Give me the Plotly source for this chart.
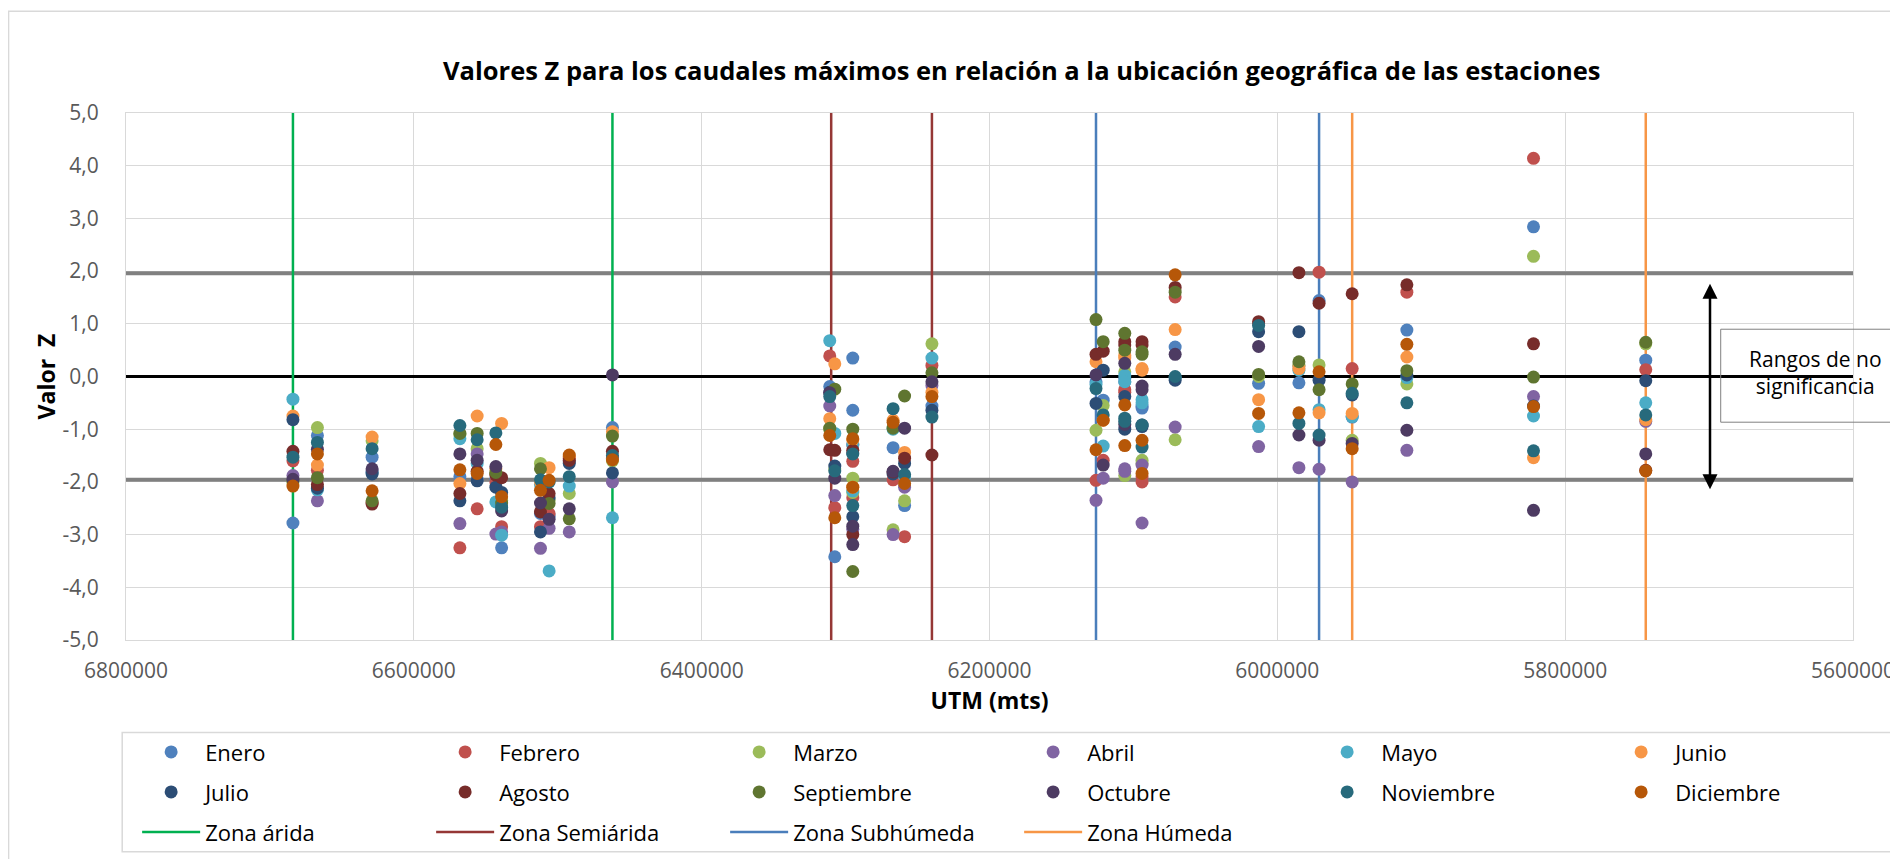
import plotly.graph_objects as go

# UTM norte de cada estación (m)
utm_estaciones = [
    6684000, 6667000, 6629000, 6568000, 6556000, 6543000, 6539000, 6512000,
    6506000, 6492000, 6462000, 6311000, 6307500, 6295000, 6295000, 6267000,
    6259000, 6240000, 6126000, 6121000, 6106000, 6106000, 6094000, 6094000,
    6071000, 6013000, 5985000, 5971000, 5948000, 5910000, 5822000, 5744000,
]

# Valor Z de cada mes por estación
enero = [-2.78, -1.12, -1.53, -1.90, -1.95, -1.95, -3.25, -2.60, -2.65, -1.62, -0.97, -0.19, -3.42, 0.35, -0.64, -1.35,
         -2.45, -0.56, -0.10, -0.45, -0.04, -0.10, -0.56, -0.60, 0.56, -0.13, -0.12, 1.44, -0.77, 0.88, 2.84, 0.31]
febrero = [-1.60, -1.78, -2.40, -3.25, -2.51, -2.00, -2.85, -2.85, -2.60, -1.55, -1.55, 0.39, -2.49, -1.61, -2.30, -1.96,
           -3.04, 0.21, -1.97, -1.59, -0.25, -0.30, -2.00, -1.90, 1.51, 1.00, 0.20, 1.98, 0.15, 1.60, 4.14, 0.13]
marzo = [-2.00, -0.97, -1.22, -1.10, -1.37, -1.85, -2.35, -1.65, -2.35, -2.22, -1.60, -1.00, -1.75, -1.93, -2.20, -2.91,
         -2.36, 0.62, -1.02, -0.55, 0.09, -1.88, -1.59, -1.65, -1.20, 0.00, 0.22, 0.22, -1.21, -0.14, 2.28, 0.62]
abril = [-1.88, -2.36, -1.80, -2.79, -1.47, -2.99, -2.95, -3.26, -2.88, -2.95, -2.00, -0.56, -2.26, -1.30, -2.90, -3.00,
         -2.10, -0.17, -2.35, -1.93, -1.75, -1.80, -2.78, -1.68, -0.96, -1.33, -1.73, -1.76, -2.00, -1.40, -0.38, -0.85]
mayo = [-0.43, -2.15, -1.82, -1.18, -1.65, -2.38, -3.01, -2.05, -3.69, -2.08, -2.68, 0.68, -1.08, -1.29, -2.17, -1.00,
        -1.90, 0.35, -0.15, -1.32, 0.02, -0.10, -0.44, -0.50, -0.02, -0.95, 0.12, -0.63, -0.76, -0.02, -0.75, -0.50]
junio = [-0.75, -1.68, -1.15, -2.03, -0.75, -1.75, -0.89, -2.00, -1.73, -1.52, -1.05, -0.80, 0.24, -1.20, -2.10, -0.83,
         -1.44, -0.30, 0.28, -0.83, 0.40, 0.35, 0.15, 0.12, 0.89, -0.44, 0.15, -0.69, -0.70, 0.37, -1.54, -0.82]
julio = [-0.82, -2.12, -1.85, -2.36, -1.98, -2.10, -2.20, -2.95, -2.30, -1.65, -1.83, -0.30, -1.70, -1.45, -2.66, -1.85,
         -1.65, -0.64, -0.51, 0.12, -0.38, -1.00, -0.92, -0.95, -0.07, 0.85, 0.85, -0.07, -0.35, 0.03, -0.56, -0.08]
agosto = [-1.42, -2.05, -2.42, -2.22, -1.80, -1.87, -1.92, -2.57, -2.22, -1.59, -1.42, -1.39, -1.40, -1.40, -3.00, -1.81,
          -1.55, -1.49, 0.42, 0.48, 0.66, 0.60, 0.66, 0.60, 1.69, 1.04, 1.97, 1.39, 1.57, 1.74, 0.62, -1.78]
septiembre = [-1.98, -1.92, -2.36, -1.08, -1.08, -1.82, -2.40, -1.75, -2.41, -2.70, -1.13, -0.98, -0.24, -1.00, -3.70, -0.98,
              -0.37, 0.07, 1.08, 0.66, 0.82, 0.50, 0.47, 0.42, 1.60, 0.04, 0.28, -0.25, -0.14, 0.11, -0.01, 0.65]
octubre = [-1.95, -1.38, -1.75, -1.47, -1.59, -1.71, -2.55, -2.40, -2.71, -2.51, 0.03, -0.31, -1.93, -2.84, -3.19, -1.80,
           -0.98, -0.10, 0.03, -1.68, 0.25, -0.91, -0.18, -0.25, 0.42, 0.57, -1.11, -1.21, -1.27, -1.02, -2.54, -1.47]
noviembre = [-1.53, -1.25, -1.37, -0.93, -1.20, -1.07, -2.48, -1.96, -2.00, -1.90, -1.50, -0.38, -1.79, -1.47, -2.45, -0.61,
             -1.86, -0.77, -0.23, -0.73, -0.79, -0.85, -1.34, -0.92, 0.00, 0.97, -0.89, -1.11, -0.32, -0.50, -1.41, -0.73]
diciembre = [-2.08, -1.47, -2.17, -1.77, -1.84, -1.29, -2.28, -2.16, -1.97, -1.49, -1.58, -1.12, -2.68, -1.18, -2.10, -0.87,
             -2.03, -0.38, -1.39, -0.83, -0.54, -1.31, -1.84, -1.21, 1.93, -0.70, -0.69, 0.09, -1.37, 0.61, -0.57, -1.79]

# Límites de las zonas climáticas (UTM norte)
zona_arida = [6684000, 6462000]
zona_semiarida = [6310000, 6240000]
zona_subhumeda = [6126000, 5971000]
zona_humeda = [5948000, 5744000]

# Umbrales de significancia
z_critico = [1.96, -1.96]

y_ticks = [5, 4, 3, 2, 1, 0, -1, -2, -3, -4, -5]
y_tick_labels = ["5,0", "4,0", "3,0", "2,0", "1,0", "0,0", "-1,0", "-2,0", "-3,0", "-4,0", "-5,0"]

meses = [
    ("Enero", enero, "#4F81BD"),
    ("Febrero", febrero, "#C0504D"),
    ("Marzo", marzo, "#9BBB59"),
    ("Abril", abril, "#8064A2"),
    ("Mayo", mayo, "#4BACC6"),
    ("Junio", junio, "#F79646"),
    ("Julio", julio, "#2C4D75"),
    ("Agosto", agosto, "#772C2A"),
    ("Septiembre", septiembre, "#5F7530"),
    ("Octubre", octubre, "#4D3B62"),
    ("Noviembre", noviembre, "#276A7C"),
    ("Diciembre", diciembre, "#B65708"),
]

zonas = [
    ("Zona árida", zona_arida, "#00B050"),
    ("Zona Semiárida", zona_semiarida, "#953735"),
    ("Zona Subhúmeda", zona_subhumeda, "#4A7EBB"),
    ("Zona Húmeda", zona_humeda, "#F79646"),
]

X_RANGE = [6800000, 5600000]
Y_RANGE = [-5, 5]
FONT = "Open Sans"

fig = go.Figure()

# Líneas de no significancia y línea cero
for zc in z_critico:
    fig.add_trace(go.Scatter(
        x=X_RANGE, y=[zc, zc], mode="lines",
        line=dict(color="#808080", width=4),
        showlegend=False, hoverinfo="skip"
    ))
fig.add_trace(go.Scatter(
    x=X_RANGE, y=[0, 0], mode="lines",
    line=dict(color="black", width=3),
    showlegend=False, hoverinfo="skip"
))

# Límites de zona (líneas verticales)
for i, (nombre, lims, color) in enumerate(zonas):
    xs, ys = [], []
    for x in lims:
        xs += [x, x, None]
        ys += [Y_RANGE[0], Y_RANGE[1], None]
    fig.add_trace(go.Scatter(
        x=xs, y=ys, mode="lines", name=nombre, legendgroup=nombre,
        line=dict(color=color, width=2.5),
        legendrank=100 + i, hoverinfo="skip"
    ))

# Puntos por mes
for i, (nombre, valores, color) in enumerate(meses):
    fig.add_trace(go.Scatter(
        x=utm_estaciones, y=valores, mode="markers", name=nombre, legendgroup=nombre,
        marker=dict(color=color, size=13),
        legendrank=i + 1
    ))

# la página añade 8 px de margen al body: la figura se reduce lo mismo
fig.update_layout(
    width=1890, height=851,
    margin=dict(l=117.5, r=45, t=104.8, b=219.2, autoexpand=False),
    paper_bgcolor="white", plot_bgcolor="white",
    font=dict(family=FONT, color="black"),
    title=dict(
        text="<b>Valores Z para los caudales máximos en relación a la ubicación geográfica de las estaciones</b>",
        x=0.5364, xanchor="center", xref="container",
        y=0.926, yanchor="middle", yref="container",
        font=dict(size=25.5, family=FONT, color="black")
    ),
    showlegend=True,
    legend=dict(
        orientation="h",
        x=-0.0005, xanchor="left",
        y=-0.173, yanchor="top",
        entrywidth=209, entrywidthmode="pixels",
        itemwidth=58, indentation=12,
        traceorder="grouped", tracegroupgap=8.4,
        font=dict(size=22, family=FONT, color="black"),
        bgcolor="rgba(0,0,0,0)", borderwidth=0
    ),
)

fig.update_xaxes(
    range=X_RANGE, dtick=200000, tick0=5600000, tickformat="d",
    showgrid=True, gridcolor="#D9D9D9", gridwidth=1, automargin=False,
    zeroline=False, showline=True, linecolor="#D9D9D9", linewidth=1, mirror=True,
    ticks="", ticklabelstandoff=12,
    tickfont=dict(size=21, color="#595959", family=FONT),
    title=dict(text="<b>UTM (mts)</b>", font=dict(size=23, color="black", family=FONT), standoff=9)
)
fig.update_yaxes(
    range=Y_RANGE, tickvals=y_ticks, ticktext=y_tick_labels,
    showgrid=True, gridcolor="#D9D9D9", gridwidth=1, automargin=False,
    zeroline=False, showline=True, linecolor="#D9D9D9", linewidth=1, mirror=True,
    ticks="", ticklabelstandoff=22,
    tickfont=dict(size=21, color="#595959", family=FONT),
    title=dict(text="<b>Valor  Z</b>", font=dict(size=23, color="black", family=FONT), standoff=0)
)

# Marco del gráfico, recuadro de leyenda y recuadro de texto
fig.add_shape(type="rect", xref="paper", yref="paper",
              x0=-0.068, x1=1.04, y0=-0.45, y1=1.193,
              line=dict(color="#D9D9D9", width=1.5), layer="below")
fig.add_shape(type="rect", xref="paper", yref="paper",
              x0=-0.0022, x1=1.033, y0=-0.402, y1=-0.1755,
              line=dict(color="#D9D9D9", width=1.5))
fig.add_shape(type="rect", xref="paper", yref="paper",
              x0=0.9234, x1=1.033, y0=0.4133, y1=0.5897,
              line=dict(color="#808080", width=1))

fig.add_annotation(
    xref="paper", yref="paper", x=0.978, y=0.507,
    text="Rangos de no<br>significancia", showarrow=False,
    xanchor="center", yanchor="middle",
    font=dict(size=21, family=FONT, color="black")
)

# Flecha doble del rango de no significancia
fig.add_annotation(
    xref="paper", yref="paper", x=0.9172, y=0.2862,
    ax=0, ay=-207, text="", showarrow=True,
    arrowhead=2, arrowside="end+start", arrowsize=1.2, arrowwidth=2.5,
    arrowcolor="black", standoff=0, startstandoff=0
)

fig.write_html("out.html")
